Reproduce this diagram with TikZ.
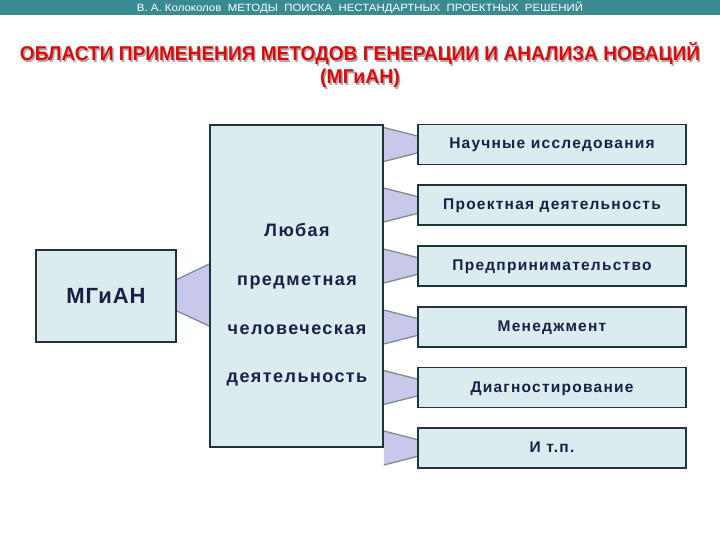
\documentclass[tikz,border=0pt]{standalone}
\usepackage{fontspec}
\setmainfont{Liberation Sans}
\usetikzlibrary{calc,backgrounds}
\definecolor{barcol}{RGB}{58,138,146}
\definecolor{boxfill}{RGB}{219,236,238}
\definecolor{boxline}{RGB}{32,52,60}
\definecolor{txtcol}{RGB}{28,30,72}
\definecolor{conn}{RGB}{200,200,234}
\definecolor{connline}{RGB}{128,140,140}
\definecolor{titlered}{RGB}{222,10,10}
\definecolor{shadowcol}{RGB}{170,170,170}
\tikzset{
  box/.style={draw=boxline,line width=1.6pt,fill=boxfill,inner sep=0pt,text=txtcol},
  rbox/.style={box,minimum width=268pt,minimum height=40pt,text height=11pt,text depth=2pt,
    font=\bfseries\fontsize{15.5}{18}\selectfont\addfontfeature{LetterSpace=8}},
  connedge/.style={draw=connline,line width=1.3pt},
  ttl/.style={font=\bfseries\fontsize{20}{22}\selectfont,inner sep=0pt,text height=14.5pt,text depth=1pt}
}
\newcommand{\shtext}[1]{\makebox[0pt][l]{\hspace{1.5pt}\raisebox{-1.5pt}{\textcolor{shadowcol}{#1}}}\textcolor{titlered}{#1}}
\newcommand{\rconn}[1]{%
  \fill[conn] ($(big.east|-#1)+(0,-17)$) -- ($(#1.west)+(0,-8.5)$) -- ($(#1.west)+(0,8.5)$) -- ($(big.east|-#1)+(0,17)$) -- cycle;
  \draw[connedge] ($(big.east|-#1)+(0,-17)$) -- ($(#1.west)+(0,-8.5)$);
  \draw[connedge] ($(big.east|-#1)+(0,17)$) -- ($(#1.west)+(0,8.5)$);
}
\begin{document}
\begin{tikzpicture}[x=1pt,y=-1pt]
\useasboundingbox (0,0) rectangle (720,540);
% header bar
\fill[barcol] (0,0) rectangle (720,15.5);
\node[text=white,font=\fontsize{10.5}{12}\selectfont,inner sep=0pt] (hdr) at (360,7.8)
  {\resizebox{446pt}{\height}{В. А. Колоколов\ \ МЕТОДЫ\ \ ПОИСКА\ \ НЕСТАНДАРТНЫХ\ \ ПРОЕКТНЫХ\ \ РЕШЕНИЙ}};
% title with shadow
\node[ttl] (t1) at (360,54) {\resizebox{680pt}{\height}{\shtext{ОБЛАСТИ ПРИМЕНЕНИЯ МЕТОДОВ ГЕНЕРАЦИИ И АНАЛИЗА НОВАЦИЙ}}};
\node[ttl] (t2) at (360,77) {\scalebox{0.97}[1]{\shtext{(МГиАН)}}};
% boxes
\node[box,minimum width=173pt,minimum height=322pt] (big) at (296.5,286) {};
\node[box,minimum width=140pt,minimum height=92pt,font=\bfseries\fontsize{22}{24}\selectfont\addfontfeature{LetterSpace=4}] (m) at (106,296) {МГиАН};
\node[text=txtcol,font=\bfseries\fontsize{18}{48.7}\selectfont\addfontfeature{LetterSpace=8},align=center,inner sep=0pt] (bigtxt) at (297,305)
  {Любая\\предметная\\человеческая\\деятельность};
\node[rbox] (r1) at (552,144.5) {Научные исследования};
\node[rbox] (r2) at (552,205) {Проектная деятельность};
\node[rbox] (r3) at (552,266) {Предпринимательство};
\node[rbox] (r4) at (552,327) {Менеджмент};
\node[rbox] (r5) at (552,387.5) {Диагностирование};
\node[rbox] (r6) at (552,448) {И т.п.};
% connectors behind boxes
\begin{scope}[on background layer]
  \fill[white] (0,15.5) rectangle (720,540);
  \fill[conn] ($(m.east)+(0,-16.5)$) -- ($(big.west|-m)+(0,-32)$) -- ($(big.west|-m)+(0,30)$) -- ($(m.east)+(0,15)$) -- cycle;
  \draw[connedge] ($(m.east)+(0,-16.5)$) -- ($(big.west|-m)+(0,-32)$);
  \draw[connedge] ($(m.east)+(0,15)$) -- ($(big.west|-m)+(0,30)$);
  \rconn{r1}\rconn{r2}\rconn{r3}\rconn{r4}\rconn{r5}\rconn{r6}
\end{scope}
\end{tikzpicture}
\end{document}
